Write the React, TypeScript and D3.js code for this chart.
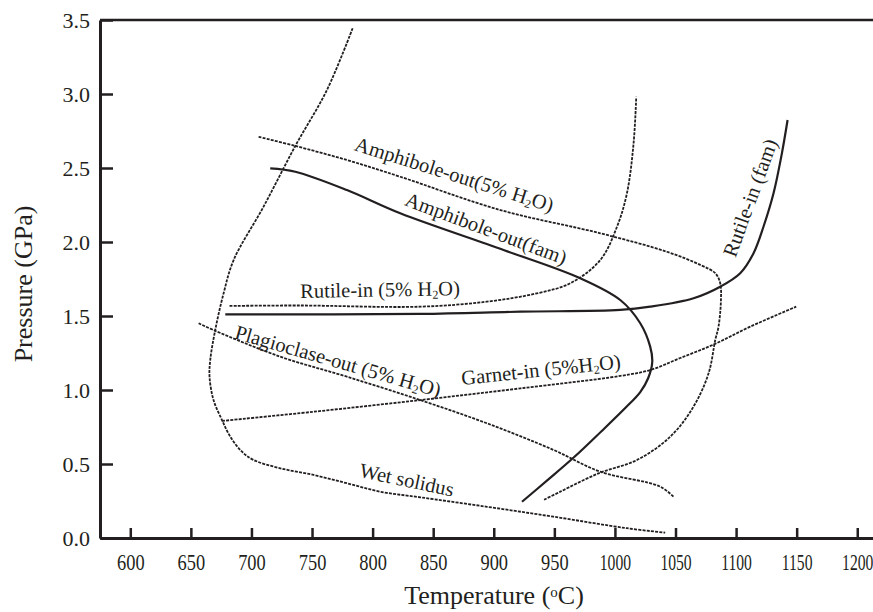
import React, { useEffect, useRef } from 'react';
import * as d3 from 'd3';

type Pt = [number, number]; // [temperature °C, pressure GPa]

const tempTicks = [600, 650, 700, 750, 800, 850, 900, 950, 1000, 1050, 1100, 1150, 1200];
const pressureTicks = [0, 0.5, 1.0, 1.5, 2.0, 2.5, 3.0, 3.5];

const wetSolidus: Pt[] = [
  [783.5, 3.444], [762.3, 3.027], [736.2, 2.649], [710.0, 2.239], [685.3, 1.878],
  [677.0, 1.653], [670.1, 1.405], [666.0, 1.203], [665.4, 1.09], [668.7, 0.932],
  [675.7, 0.797], [682.5, 0.685], [692.2, 0.583], [701.8, 0.527], [723.8, 0.471],
  [751.3, 0.426], [778.8, 0.37], [806.3, 0.313], [839.3, 0.275], [894.4, 0.211],
  [949.3, 0.144], [1009.9, 0.066], [1041.5, 0.036],
];

const amphiboleOut5: Pt[] = [
  [705.9, 2.711], [736.2, 2.649], [778.8, 2.554], [822.8, 2.441], [905.4, 2.216],
  [987.9, 2.059], [1042.9, 1.934], [1070.5, 1.845], [1082.8, 1.789], [1086.9, 1.721],
  [1087.5, 1.608], [1085.5, 1.428], [1082.8, 1.338], [1077.3, 1.113], [1064.8, 0.887],
  [1045.6, 0.684], [1018.2, 0.527], [986.5, 0.437], [954.9, 0.313], [941.1, 0.257],
];

const amphiboleOutFam: Pt[] = [
  [715.5, 2.498], [736.2, 2.475], [778.8, 2.351], [822.8, 2.194], [908.1, 1.946],
  [971.4, 1.755], [1004.4, 1.608], [1020.9, 1.451], [1029.1, 1.293], [1030.8, 1.189],
  [1027.5, 1.081], [1020.9, 0.986], [1008.5, 0.878], [988.7, 0.72], [966.4, 0.547],
  [944.1, 0.389], [923.3, 0.245],
];

const rutileIn5: Pt[] = [
  [681.9, 1.568], [740.3, 1.571], [839.3, 1.563], [894.4, 1.597], [935.6, 1.653],
  [963.1, 1.721], [987.9, 1.878], [1001.7, 2.103], [1009.9, 2.329], [1015.4, 2.667],
  [1017.6, 2.982],
];

const rutileInFam: Pt[] = [
  [678.4, 1.511], [839.3, 1.514], [921.9, 1.529], [1004.4, 1.541], [1029.1, 1.563],
  [1064.9, 1.62], [1086.9, 1.698], [1103.4, 1.789], [1114.4, 1.924], [1122.6, 2.103],
  [1130.9, 2.329], [1137.8, 2.599], [1142.5, 2.824],
];

const plagioclaseOut5: Pt[] = [
  [656.4, 1.451], [668.7, 1.405], [723.8, 1.225], [778.8, 1.09], [839.3, 0.932],
  [894.4, 0.775], [949.3, 0.595], [987.9, 0.448], [1037.4, 0.347], [1048.3, 0.279],
];

const garnetIn5: Pt[] = [
  [675.7, 0.791], [751.3, 0.853], [839.3, 0.932], [921.9, 1.011], [1004.4, 1.095],
  [1029.1, 1.135], [1053.9, 1.216], [1081.4, 1.307], [1111.7, 1.428], [1149.6, 1.563],
];

const curves = [
  { name: 'wet-solidus', points: wetSolidus, dashed: true },
  { name: 'amph-5', points: amphiboleOut5, dashed: true },
  { name: 'amph-fam', points: amphiboleOutFam, dashed: false },
  { name: 'rutile-5', points: rutileIn5, dashed: true },
  { name: 'rutile-fam', points: rutileInFam, dashed: false },
  { name: 'plag-5', points: plagioclaseOut5, dashed: true },
  { name: 'garnet-5', points: garnetIn5, dashed: true },
];

// text pieces: [string, isSubscript]
const curveLabels: { parts: [string, boolean][]; at: Pt; angle: number }[] = [
  { parts: [['Amphibole-out(5% H', false], ['2', true], ['O)', false]], at: [784.3, 2.622], angle: 17.5 },
  { parts: [['Amphibole-out(fam)', false]], at: [825.6, 2.25], angle: 20.5 },
  { parts: [['Rutile-in (5% H', false], ['2', true], ['O)', false]], at: [740.3, 1.622], angle: -1 },
  { parts: [['Plagioclase-out (5% H', false], ['2', true], ['O)', false]], at: [685.3, 1.349], angle: 16 },
  { parts: [['Garnet-in (5%H', false], ['2', true], ['O)', false]], at: [873.7, 1.034], angle: -6 },
  { parts: [['Wet solidus', false]], at: [788.4, 0.414], angle: 12 },
  { parts: [['Rutile-in (fam)', false]], at: [1099.5, 1.89], angle: -70 },
];

const WIDTH = 873;
const HEIGHT = 612;
const INK = '#231f20';
const FONT = "'Liberation Serif', 'Times New Roman', serif";

export default function App() {
  const svgRef = useRef<SVGSVGElement>(null);

  useEffect(() => {
    const svgElement = svgRef.current;
    if (!svgElement) return;
    const svg = d3.select(svgElement);
    svg.selectAll('*').remove();

    const left = 100, right = WIDTH, top = 20, bottom = 538;

    const x = d3.scaleLinear().domain([575, 1213]).range([left, right]);
    const y = d3.scaleLinear().domain([0, 3.5]).range([bottom, top]);

    // top frame line
    svg.append('line')
      .attr('x1', left).attr('x2', right)
      .attr('y1', top).attr('y2', top)
      .attr('stroke', INK).attr('stroke-width', 2.5);

    // X axis (ticks pointing up into the plot)
    const gx = svg.append('g')
      .attr('transform', `translate(0, ${bottom})`)
      .call(d3.axisBottom(x)
        .tickValues(tempTicks)
        .tickSizeInner(-10)
        .tickSizeOuter(0)
        .tickPadding(16)
        .tickFormat(d => String(d)));
    gx.select('.domain').attr('stroke', INK).attr('stroke-width', 3);
    gx.selectAll('.tick line').attr('stroke', INK).attr('stroke-width', 2.5);
    // the original's labels are narrow, four-digit ones even more so
    gx.selectAll<SVGTextElement, number>('.tick text')
      .attr('fill', INK)
      .style('font-family', FONT)
      .style('font-size', '23px')
      .attr('transform', d => (d >= 1000 ? 'scale(0.68,1)' : 'scale(0.8,1)'));

    // Y axis (ticks pointing right into the plot)
    const gy = svg.append('g')
      .attr('transform', `translate(${left}, 0)`)
      .call(d3.axisLeft(y)
        .tickValues(pressureTicks)
        .tickSizeInner(-13)
        .tickSizeOuter(0)
        .tickPadding(10)
        .tickFormat(d3.format('.1f')));
    gy.select('.domain').attr('stroke', INK).attr('stroke-width', 3);
    gy.selectAll('.tick line').attr('stroke', INK).attr('stroke-width', 2.5);
    gy.selectAll('.tick text')
      .attr('fill', INK)
      .style('font-family', FONT)
      .style('font-size', '22px');

    // Curves
    const line = d3.line<Pt>()
      .x(d => x(d[0]))
      .y(d => y(d[1]))
      .curve(d3.curveCatmullRom.alpha(0.5));

    curves.forEach(c => {
      svg.append('path')
        .datum(c.points)
        .attr('class', c.name)
        .attr('fill', 'none')
        .attr('stroke', INK)
        .attr('stroke-width', c.dashed ? 1.8 : 2.2)
        .attr('stroke-dasharray', c.dashed ? '3,1.2' : null)
        .attr('d', line);
    });

    // Curve labels
    curveLabels.forEach(l => {
      const t = svg.append('text')
        .attr('transform', `translate(${x(l.at[0])}, ${y(l.at[1])}) rotate(${l.angle})`)
        .attr('fill', INK)
        .style('font-family', FONT)
        .style('font-size', '20.5px');
      l.parts.forEach(([s, sub]) => {
        const ts = t.append('tspan').text(s);
        if (sub) ts.attr('baseline-shift', '-22%').style('font-size', '12px');
      });
    });

    // Axis titles
    const xt = svg.append('text')
      .attr('x', 494).attr('y', 604)
      .attr('text-anchor', 'middle')
      .attr('fill', INK)
      .style('font-family', FONT)
      .style('font-size', '26px');
    xt.append('tspan').text('Temperature (');
    xt.append('tspan').text('o').attr('baseline-shift', '45%').style('font-size', '15px');
    xt.append('tspan').text('C)');

    svg.append('text')
      .attr('transform', 'translate(32, 284) rotate(-90)')
      .attr('text-anchor', 'middle')
      .attr('fill', INK)
      .style('font-family', FONT)
      .style('font-size', '26px')
      .text('Pressure (GPa)');

    return () => {
      svg.selectAll('*').remove();
    };
  }, []);

  return (
    <svg
      ref={svgRef}
      width={WIDTH}
      height={HEIGHT}
      style={{ position: 'absolute', left: 0, top: 0, background: '#fff' }}
    />
  );
}
